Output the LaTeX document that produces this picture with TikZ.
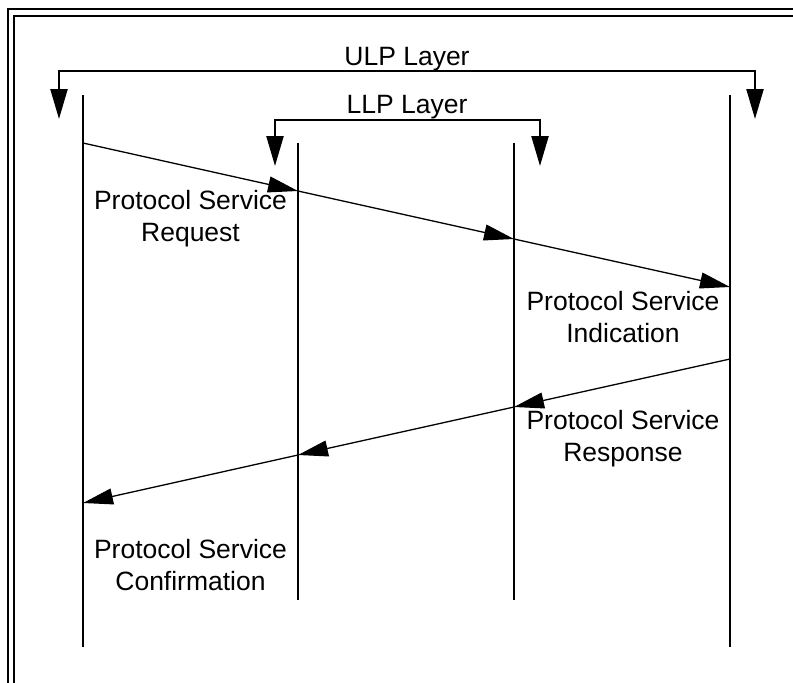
\documentclass[tikz,border=0pt]{standalone}
\usepackage{fontspec}
\setmainfont{Liberation Sans}
\usetikzlibrary{arrows.meta}
\begin{document}
\begin{tikzpicture}[x=1pt,y=-1pt,
  lifeline/.style={line width=2.3pt},
  msg/.style={line width=1.3pt,-{Triangle[length=30pt,width=16pt]}},
  layer/.style={line width=2.3pt,{Triangle[length=30pt,width=17pt]}-{Triangle[length=30pt,width=17pt]}},
  frameline/.style={line width=2.2pt},
  lbl/.style={inner sep=0pt,align=center,font=\fontsize{26.5}{32}\selectfont}]
\useasboundingbox (0,0) rectangle (793,683);
\clip (0,0) rectangle (793,683);
% frame
\coordinate (fo1) at (8.3,720); \coordinate (fo2) at (8.3,9.3); \coordinate (fo3) at (830,9.3);
\coordinate (fi1) at (14.3,720); \coordinate (fi2) at (14.3,15.7); \coordinate (fi3) at (830,15.7);
\draw[frameline] (fo1) -- (fo2) -- (fo3);
\draw[frameline] (fi1) -- (fi2) -- (fi3);
% lifelines
\coordinate (u1t) at (83,95);  \coordinate (u1b) at (83,647);
\coordinate (l1t) at (298,143); \coordinate (l1b) at (298,600);
\coordinate (l2t) at (514,143); \coordinate (l2b) at (514,600);
\coordinate (u2t) at (730,95); \coordinate (u2b) at (730,647);
\draw[lifeline] (u1t) -- (u1b);
\draw[lifeline] (l1t) -- (l1b);
\draw[lifeline] (l2t) -- (l2b);
\draw[lifeline] (u2t) -- (u2b);
% layer brackets
\coordinate (ulA) at (59,119); \coordinate (ulB) at (59,71); \coordinate (ulC) at (755,71); \coordinate (ulD) at (755,119);
\draw[layer] (ulA) -- (ulB) -- (ulC) -- (ulD);
\node[lbl] (ulp) at (407,59) {ULP Layer};
\coordinate (llA) at (275,166); \coordinate (llB) at (275,120); \coordinate (llC) at (540,120); \coordinate (llD) at (540,166);
\draw[layer] (llA) -- (llB) -- (llC) -- (llD);
\node[lbl] (llp) at (407,107.5) {LLP Layer};
% messages
\coordinate (a0) at (83,143); \coordinate (a1) at (298,191); \coordinate (a2) at (514,239); \coordinate (a3) at (730,287);
\draw[msg] (a0) -- (a1);
\draw[msg] (a1) -- (a2);
\draw[msg] (a2) -- (a3);
\coordinate (b0) at (730,359); \coordinate (b1) at (514,407); \coordinate (b2) at (298,455); \coordinate (b3) at (83,503);
\draw[msg] (b0) -- (b1);
\draw[msg] (b1) -- (b2);
\draw[msg] (b2) -- (b3);
% labels
\node[lbl] (req) at (190.5,219) {Protocol Service\\Request};
\node[lbl] (ind) at (623,317) {Protocol Service\\Indication};
\node[lbl] (res) at (623,439) {Protocol Service\\Response};
\node[lbl] (con) at (190.5,565) {Protocol Service\\Confirmation};
\end{tikzpicture}
\end{document}
